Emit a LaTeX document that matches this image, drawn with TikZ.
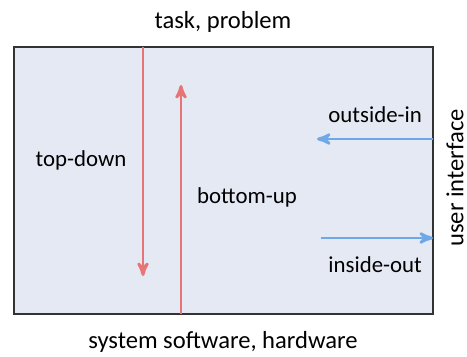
\documentclass[tikz,border=0pt]{standalone}
\usepackage{fontspec}
\setmainfont{Carlito}
\usetikzlibrary{positioning}
\usetikzlibrary{arrows}
\definecolor{boxfill}{HTML}{E5E9F4}
\definecolor{flowred}{HTML}{E87575}
\definecolor{flowblue}{HTML}{6FA8E8}

\begin{document}
\begin{tikzpicture}[x=0.02cm,y=-0.02cm,>=stealth',
                    lbl/.style={font=\fontsize{14}{16}\selectfont,inner sep=1pt},
                    flow lbl/.style={font=\fontsize{13}{15}\selectfont,inner sep=1pt},
                    red flow/.style={->,draw=flowred,line width=1.6pt},
                    blue flow/.style={->,draw=flowblue,line width=1.6pt}]
      \useasboundingbox (0,0) rectangle (467,356);

      \node[draw=black!80,fill=boxfill,line width=0.8pt,inner sep=0pt,
            minimum width=8.38cm,minimum height=5.34cm] (box) at (223.5,180.5) {};

      \node[lbl] (task) at (223,22) {task, problem};
      \node[lbl] (sys) at (223,342) {system software, hardware};
      \node[lbl,rotate=90] (ui) at (455,178) {user interface};
      \node[flow lbl] (topdown) at (81,160) {top-down};
      \node[flow lbl] (bottomup) at (247,197) {bottom-up};
      \node[flow lbl,anchor=east] (outin) at (424,115) {outside-in};
      \node[flow lbl,anchor=east] (inout) at (424,265) {inside-out};

      \coordinate (td start) at (143,47);
      \coordinate (td end) at (143,276);
      \coordinate (bu start) at (181,314);
      \coordinate (bu end) at (181,85);
      \coordinate (oi start) at (433,139);
      \coordinate (oi end) at (317,139);
      \coordinate (io start) at (321,238);
      \coordinate (io end) at (433,238);

      \draw[red flow] (td start) -- (td end);
      \draw[red flow] (bu start) -- (bu end);
      \draw[blue flow] (oi start) -- (oi end);
      \draw[blue flow] (io start) -- (io end);
\end{tikzpicture}
\end{document}
